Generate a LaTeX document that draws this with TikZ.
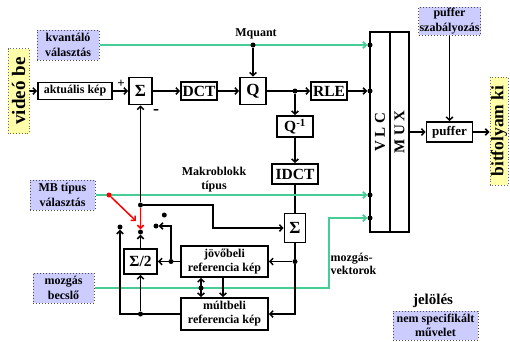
\documentclass[tikz,border=0pt]{standalone}
\usepackage{fontspec}
\setmainfont{Liberation Serif}
\usetikzlibrary{arrows.meta, backgrounds}

\definecolor{mint}{RGB}{70,205,150}
\definecolor{lavender}{RGB}{204,204,255}
\definecolor{paleyellow}{RGB}{255,255,170}

\tikzset{
    block/.style={draw, line width=1.6pt, fill=white, inner sep=1pt, align=center,
        font=\bfseries\fontsize{12}{14}\selectfont},
    bigblock/.style={block, font=\bfseries\fontsize{15.5}{16}\selectfont},
    unspec/.style={draw=black!70, dotted, line width=1pt, fill=lavender, inner sep=1pt,
        align=center, font=\bfseries\fontsize{12}{14.5}\selectfont},
    iobox/.style={draw=black!60, dotted, line width=0.9pt, fill=paleyellow, rotate=90, inner sep=1pt},
    conn/.style={line width=1.5pt, -{Straight Barb[length=3.2pt,width=6.5pt]}},
    ctrl/.style={mint, line width=1.8pt, -{Straight Barb[length=3.2pt,width=6.5pt]}},
    dot/.style={circle, fill=black, inner sep=0pt, minimum size=5pt},
    lbl/.style={font=\bfseries\fontsize{12}{13}\selectfont, align=center}
}

\begin{document}
\begin{tikzpicture}[x=1pt, y=-1pt]
    \useasboundingbox (0,0) rectangle (510,341);

    % Input and output
    \node[iobox, minimum width=85pt, minimum height=21pt, font=\bfseries\fontsize{19}{20}\selectfont] (vbe) at (18.5,91) {videó be};
    \node[iobox, minimum width=108pt, minimum height=18pt, font=\bfseries\fontsize{17.5}{18}\selectfont] (bki) at (499,131) {bitfolyam ki};

    % Not specified operations
    \node[unspec, minimum width=62pt, minimum height=30pt] (kval) at (68,45) {kvantáló\\választás};
    \node[unspec, minimum width=62pt, minimum height=28pt] (psz) at (449.5,21) {puffer\\szabályozás};
    \node[unspec, minimum width=65pt, minimum height=30pt] (mbt) at (62.5,195) {MB típus\\választás};
    \node[unspec, minimum width=61pt, minimum height=30pt] (mozb) at (63.5,288) {mozgás\\becslő};
    \node[unspec, minimum width=85pt, minimum height=29pt] (nsp) at (435.5,325.5) {nem specifikált\\művelet};

    % Coding path
    \node[block, minimum width=74pt, minimum height=17pt] (akt) at (75,91) {aktuális kép};
    \node[bigblock, minimum width=23pt, minimum height=27pt, font=\bfseries\fontsize{17}{17}\selectfont] (sum1) at (140.5,91) {Σ};
    \node[bigblock, minimum width=36pt, minimum height=18pt] (dct) at (199,91) {DCT};
    \node[bigblock, minimum width=26pt, minimum height=27pt, font=\bfseries\fontsize{17}{17}\selectfont] (q) at (253,91) {Q};
    \node[bigblock, minimum width=36pt, minimum height=18pt] (rle) at (329,91) {RLE};
    \node[bigblock, minimum width=36pt, minimum height=21pt] (qinv) at (295,126.5) {Q\textsuperscript{-1}};
    \node[bigblock, minimum width=46pt, minimum height=20pt] (idct) at (295,174) {IDCT};
    \node[bigblock, minimum width=21pt, minimum height=29pt, font=\bfseries\fontsize{17}{17}\selectfont] (sum2) at (295,228) {Σ};
    \node[bigblock, minimum width=20pt, minimum height=200pt] (vlc) at (380,132) {};
    \node[bigblock, minimum width=19pt, minimum height=200pt] (mux) at (399.5,132) {};
    \node[rotate=90, font=\bfseries\fontsize{15}{16}\selectfont] at (vlc) {V L C};
    \node[rotate=90, font=\bfseries\fontsize{15}{16}\selectfont] at (mux) {M U X};
    \node[block, minimum width=46pt, minimum height=20pt, font=\bfseries\fontsize{13}{14}\selectfont] (puf) at (449.5,132) {puffer};

    % Prediction loop
    \node[block, minimum width=87pt, minimum height=31pt] (jov) at (224.5,261.5) {jövőbeli\\referencia kép};
    \node[block, minimum width=87pt, minimum height=32pt] (mult) at (224.5,314) {múltbeli\\referencia kép};
    \node[bigblock, minimum width=33pt, minimum height=25pt] (avg) at (140.5,261.5) {Σ/2};

    % Dots
    \foreach \name/\x/\y in {
        dmq/253/45, dv1/370/45, dv2/370/91, dv3/370/195, dv4/370/218,
        dq/295/91, dc/140.5/205, dj/295/261.5, dr/171/261.5, db/140.5/314,
        dmo/201/288, c0/164.3/215, c1/120/227, c2/140.5/232, c3/156/226
    } {
        \node[dot] (\name) at (\x,\y) {};
    }
    \node[dot, fill=red] (dred) at (109,195) {};
    \coordinate (mv) at (329,218);
    \coordinate (kb) at (213,228);
    \coordinate (sw) at (136,221);

    % Labels
    \node[lbl] at (256,34) {Mquant};
    \node[lbl, font=\bfseries\fontsize{12}{14}\selectfont] at (214,180) {Makroblokk\\típus};
    \node[lbl, anchor=west, align=left] at (327,263.5) {mozgás-\\vektorok};
    \node[font=\bfseries\fontsize{15}{15}\selectfont] at (433,301) {jelölés};
    \node[font=\bfseries\fontsize{13}{13}\selectfont] at (121,84) {+};
    \node[font=\bfseries\fontsize{18}{18}\selectfont] at (156,112) {-};

    \begin{pgfonlayer}{background}
    % Forward connectors
    \draw[conn] (akt.west -| vbe.south) -- (akt.west);
    \draw[conn] (akt) -- (sum1);
    \draw[conn] (sum1) -- (dct);
    \draw[conn] (dct) -- (q);
    \draw[conn] (q) -- (rle);
    \draw[conn] (dq) -- (qinv);
    \draw[conn] (qinv) -- (idct);
    \draw[line width=1.5pt] (idct) -- (sum2);
    \draw[conn] (rle) -- (dv2);
    \draw[conn] (dmq) -- (q);
    \draw[conn] (mux.east) -- (puf.west);
    \draw[conn] (psz) -- (puf);
    \draw[conn] (puf.east) -- (puf.east -| bki.north);

    % Control lines
    \draw[ctrl] (kval.east) -- (dv1);
    \draw[ctrl] (mbt.east) -- (dv3);
    \draw[ctrl] (mozb.east) -| (mv) -- (dv4);

    % Feedback connectors
    \draw[conn] (dc) -- (sum1);
    \draw[conn] (dc) -| (kb) -- (sum2.west);
    \draw[line width=1.5pt] (sum2) -- (dj);
    \draw[conn] (dj) -- (jov.east);
    \draw[conn] (dj) |- (mult.east);
    \draw[conn] (jov.west) -- (avg.east);
    \draw[conn] (dr) |- (c3);
    \draw[conn] (mult.west) -| (c1);
    \draw[conn] (db) -- (avg);
    \draw[conn] (avg) -- (c2);
    \draw[conn, {Straight Barb[length=3.2pt,width=6.5pt]}-{Straight Barb[length=3.2pt,width=6.5pt]}] ([xshift=-23.5pt]jov.south) -- ([xshift=-23.5pt]mult.north);
    \draw[conn] ([xshift=-1.5pt]jov.south) -- ([xshift=-1.5pt]mult.north);

    % Switch
    \draw[conn, red] (dred) -- (sw);
    \draw[conn, red] (dc) -- (c2);
    \end{pgfonlayer}
\end{tikzpicture}
\end{document}
